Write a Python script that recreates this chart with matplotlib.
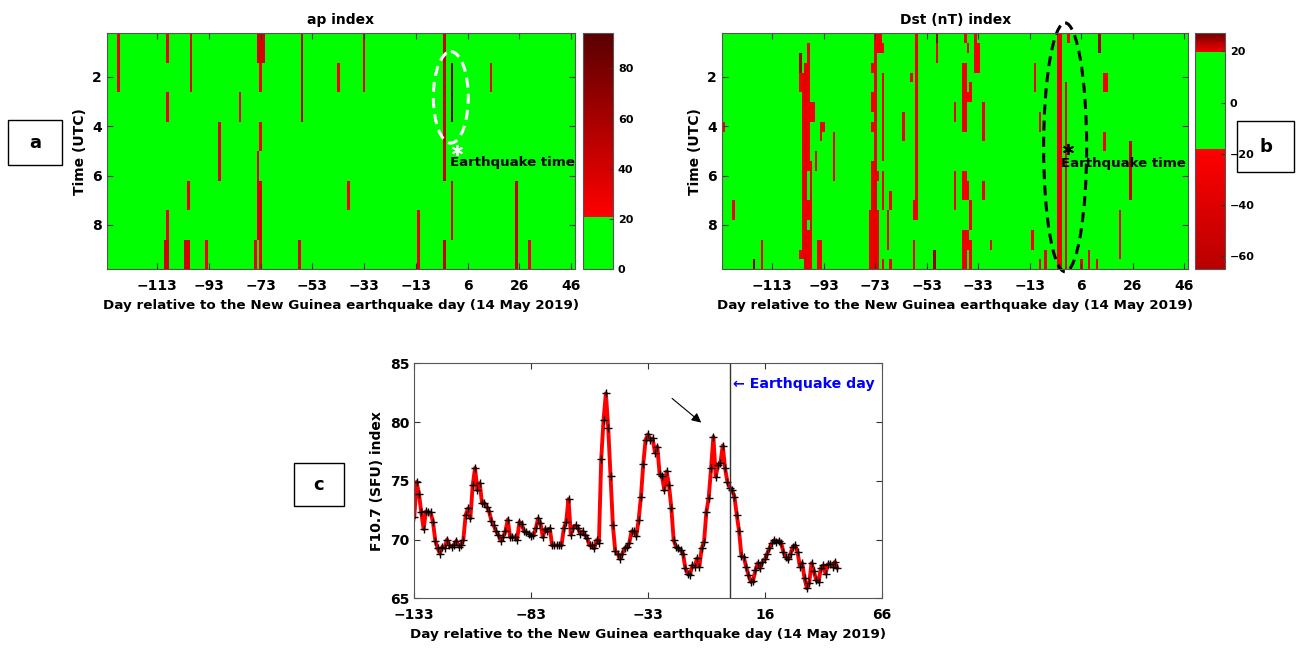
import numpy as np
import matplotlib
matplotlib.use("Agg")
import matplotlib.pyplot as plt
from matplotlib.colors import ListedColormap
from matplotlib.patches import Ellipse, Rectangle

plt.rcParams['font.family'] = ['DejaVu Sans']
plt.rcParams['font.weight'] = 'bold'
plt.rcParams['axes.labelweight'] = 'bold'
plt.rcParams['axes.titleweight'] = 'bold'

# ---------------- data ----------------
# heat map columns (day position) and tick labels
heat_days = np.arange(-132, 49)
heat_tick_pos = [-113, -93, -73, -53, -33, -13, 7, 27, 47]
heat_tick_labels = ['\u2212113', '\u221293', '\u221273', '\u221253', '\u221233', '\u221213', '6', '26', '46']

# ap index: 8 three-hour rows per day; (day, first row, last row, value)
ap_quiet = 5
ap_events = [
    (-128, 0, 1, 32),
    (-109, 0, 0, 27), (-109, 2, 2, 27), (-109, 6, 6, 27), (-110, 7, 7, 39), (-109, 7, 7, 39),
    (-100, 0, 1, 32), (-101, 5, 5, 32), (-102, 7, 7, 39), (-101, 7, 7, 39),
    (-94, 7, 7, 27), (-89, 3, 4, 32), (-81, 2, 2, 27),
    (-74, 0, 0, 39), (-73, 0, 0, 39), (-72, 0, 0, 39), (-73, 1, 1, 27), (-73, 3, 3, 27),
    (-74, 4, 4, 32), (-74, 5, 6, 39), (-73, 5, 6, 39), (-75, 7, 7, 27), (-73, 7, 7, 27),
    (-58, 7, 7, 32), (-57, 0, 2, 48), (-43, 1, 1, 27), (-33, 0, 1, 32), (-39, 5, 5, 27),
    (-12, 6, 7, 32), (-2, 0, 4, 48), (-2, 7, 7, 48), (1, 1, 1, 75), (1, 2, 2, 88),
    (1, 5, 6, 32), (16, 1, 1, 27), (26, 5, 7, 48), (31, 7, 7, 27),
]

# Dst index: 24 hourly rows per day; (day, first row, last row, value nT)
dst_quiet = -5
dst_events = [
    (-132, 9, 9, -25), (-128, 17, 18, -25), (-120, 23, 23, 25), (-117, 21, 23, -25),
    (-102, 2, 3, 24), (-102, 4, 5, -25), (-102, 22, 22, -25),
    (-101, 4, 22, -30), (-100, 3, 23, -35),
    (-99, 1, 13, -30), (-99, 17, 18, -30), (-99, 20, 23, -30),
    (-98, 7, 8, -25), (-97, 7, 8, -25), (-98, 13, 23, -30),
    (-96, 12, 13, -25), (-95, 21, 23, -25), (-94, 21, 23, -25),
    (-94, 9, 10, -25), (-93, 9, 9, -25), (-89, 10, 14, -25),
    (-73, 0, 12, -25), (-72, 0, 1, -30), (-71, 0, 1, -30), (-70, 1, 1, -25),
    (-74, 3, 3, -25), (-74, 6, 7, -25), (-74, 9, 9, -25), (-70, 4, 12, -25),
    (-74, 13, 23, -30), (-73, 13, 23, -35), (-75, 18, 23, -30), (-72, 18, 23, -25),
    (-72, 14, 14, -25), (-70, 14, 17, -25), (-67, 16, 17, -25), (-68, 18, 21, -25),
    (-70, 23, 23, -25), (-67, 23, 23, -25),
    (-62, 8, 10, -25), (-59, 4, 4, -25), (-57, 0, 18, -30), (-58, 17, 18, -30), (-58, 21, 23, -25),
    (-49, 0, 0, 25), (-49, 1, 2, -25), (-50, 22, 23, 25),
    (-42, 7, 8, -25), (-42, 14, 17, -25),
    (-39, 3, 9, -30), (-38, 3, 9, -30), (-38, 0, 0, -25), (-37, 1, 1, -25),
    (-37, 6, 6, -25), (-36, 5, 6, -25), (-34, 0, 3, -25), (-33, 1, 3, -25), (-31, 7, 10, -25),
    (-39, 14, 16, -25), (-38, 14, 16, -25), (-37, 15, 16, -25), (-36, 17, 19, -25), (-31, 15, 16, -25),
    (-39, 20, 23, -30), (-38, 20, 23, -30), (-37, 20, 21, -25), (-36, 21, 23, -25), (-28, 21, 21, -25),
    (-11, 3, 5, -25), (-9, 8, 9, -25), (-12, 20, 21, -25), (-9, 23, 23, -25), (-7, 22, 23, -25),
    (-2, 0, 23, -30), (-1, 0, 23, -30), (1, 5, 23, -25), (2, 0, 0, -25),
    (7, 23, 23, -25), (10, 22, 23, -25), (13, 23, 23, -25), (14, 0, 1, 24),
    (16, 4, 5, -25), (17, 4, 5, -25), (16, 10, 11, -25), (22, 18, 22, -25), (26, 11, 16, -55),
]

# F10.7 daily values
f_days = np.arange(-133, 49)
f107 = [
    71.9, 74.9, 73.9, 72.3, 70.9, 72.4, 72.3, 72.3, 71.5, 69.9,
    69.25, 68.8, 69.4, 69.3, 70.0, 69.5, 69.4, 69.5, 69.9, 69.4,
    69.5, 70.0, 72.1, 72.65, 71.8, 74.6, 76.1, 74.2, 74.8, 73.1,
    73.1, 72.8, 72.4, 71.6, 71.2, 70.7, 70.4, 69.9, 70.2, 70.7,
    71.7, 70.2, 70.2, 70.2, 70.0, 71.5, 71.3, 70.7, 70.6, 70.5,
    70.3, 70.4, 70.95, 71.8, 71.4, 70.2, 70.9, 70.7, 70.95, 69.5,
    69.5, 69.5, 69.5, 69.5, 70.95, 71.5, 73.45, 70.4, 71.0, 71.2,
    71.0, 70.5, 70.7, 70.4, 70.1, 69.5, 69.5, 69.25, 69.95, 69.7,
    76.85, 80.2, 82.45, 79.5, 75.4, 71.2, 69.0, 68.8, 68.35, 68.8,
    69.25, 69.4, 69.7, 70.7, 70.7, 70.3, 71.65, 73.65, 76.45, 78.5,
    78.95, 78.5, 78.6, 77.4, 77.9, 75.55, 75.4, 74.2, 75.8, 74.6,
    72.7, 69.95, 69.4, 69.25, 69.1, 68.8, 67.55, 67.1, 67.0, 67.8,
    67.7, 68.4, 67.7, 69.25, 69.8, 72.35, 73.55, 76.05, 78.75, 75.35,
    76.35, 76.5, 78.0, 76.05, 74.9, 74.4, 74.2, 73.65, 72.1, 70.7,
    68.6, 68.5, 67.7, 67.0, 66.4, 66.5, 67.4, 68.0, 67.55, 68.1,
    68.3, 68.8, 69.25, 69.7, 69.95, 69.8, 69.9, 69.7, 68.9, 68.5,
    68.3, 68.8, 69.4, 69.5, 68.95, 67.7, 68.0, 66.7, 65.85, 66.3,
    68.0, 67.3, 66.55, 66.4, 67.55, 67.8, 67.1, 67.9, 67.9, 67.7,
    68.1, 67.6,
]
f_tick_pos = [-133, -83, -33, 17, 67]
f_tick_labels = ['\u2212133', '\u221283', '\u221233', '16', '66']

xlabel = 'Day relative to the New Guinea earthquake day (14 May 2019)'

# ---------------- colour maps ----------------
ap_lim = (0, 94)
v = np.linspace(*ap_lim, 256)
c = np.zeros((256, 4))
c[:, 3] = 1
t = np.clip((v - 21) / (ap_lim[1] - 21), 0, 1)
c[:, 0] = 1 - 0.65 * t
c[v < 21] = (0, 1, 0, 1)
ap_cmap = ListedColormap(c)

dst_lim = (-65, 27)
v = np.linspace(*dst_lim, 256)
c = np.zeros((256, 4))
c[:, 3] = 1
lo = v < -18
hi = v > 20
c[:, 1] = 1
c[lo | hi, 1] = 0
c[lo, 0] = 1 - 0.28 * (-18 - v[lo]) / 47
c[hi, 0] = 0.95 - 0.5 * (v[hi] - 20) / 7
c[~(lo | hi), 0] = 0
dst_cmap = ListedColormap(c)


def make_grid(events, nrows, quiet):
    g = np.full((nrows, len(heat_days)), float(quiet))
    for d, r0, r1, val in events:
        g[r0:r1 + 1, d - heat_days[0]] = val
    return g


def style_axes(ax):
    ax.tick_params(direction='in', top=True, right=True, length=4, width=0.8,
                   labelsize=10, color='#333333')
    ax.tick_params(axis='x', pad=7)
    for s in ax.spines.values():
        s.set_color('#555555')
        s.set_linewidth(0.8)


fig = plt.figure(figsize=(13.11, 6.55), dpi=100)
ax_a = fig.add_axes([0.0814, 0.5889, 0.3572, 0.3603])
cax_a = fig.add_axes([0.4447, 0.5889, 0.0229, 0.3603])
ax_b = fig.add_axes([0.5507, 0.5889, 0.3557, 0.3603])
cax_b = fig.add_axes([0.9115, 0.5889, 0.0229, 0.3603])
ax_c = fig.add_axes([0.3160, 0.0866, 0.3565, 0.3588])

xedges = np.append(heat_days - 0.5, heat_days[-1] + 0.5)
ytop, ybot = 0.25, 9.79

panels = [
    (ax_a, cax_a, ap_events, 8, ap_quiet, ap_cmap, ap_lim, 'ap index', [0, 20, 40, 60, 80]),
    (ax_b, cax_b, dst_events, 24, dst_quiet, dst_cmap, dst_lim, 'Dst (nT) index', [-60, -40, -20, 0, 20]),
]
for ax, cax, ev, nrows, quiet, cmap, lim, title, cticks in panels:
    grid = make_grid(ev, nrows, quiet)
    yedges = np.linspace(ytop, ybot, nrows + 1)
    mesh = ax.pcolormesh(xedges, yedges, grid, cmap=cmap, vmin=lim[0], vmax=lim[1], shading='flat')
    ax.set_xlim(xedges[0], xedges[-1])
    ax.set_ylim(ybot, ytop)
    ax.set_xticks(heat_tick_pos)
    ax.set_xticklabels(heat_tick_labels)
    ax.set_yticks([2, 4, 6, 8])
    ax.set_xlabel(xlabel, fontsize=9.7)
    ax.set_ylabel('Time (UTC)', fontsize=10)
    ax.set_title(title, fontsize=10, pad=7)
    style_axes(ax)
    cb = fig.colorbar(mesh, cax=cax, ticks=cticks)
    cb.ax.tick_params(labelsize=8, direction='in', length=3, color='#333333')
    cb.ax.set_yticklabels([str(x).replace('-', '\u2212') for x in cticks])
    cb.outline.set_edgecolor('#555555')

# annotations on a
ax_a.add_patch(Ellipse((0.5, 2.84), 13.5, 3.7, fill=False, ec='white', lw=2.2,
                       ls=(0, (3.3, 2))))
ax_a.plot(2.7, 4.97, marker=(6, 2, 0), color='white', ms=8, mew=1.3)
ax_a.text(0.0, 5.48, 'Earthquake time', fontsize=9.6, va='center', color='black')

# annotations on b
ax_b.add_patch(Ellipse((0.7, 4.86), 16.7, 10.06, fill=False, ec='black', lw=2.2,
                       ls=(0, (3.3, 2)), clip_on=False))
ax_b.plot(1.9, 4.94, marker=(6, 2, 0), color='black', ms=8, mew=1.3)
ax_b.text(-1.0, 5.53, 'Earthquake time', fontsize=9.6, va='center', color='black')

# panel c
ax_c.plot(f_days, f107, color='red', lw=2.8)
ax_c.plot(f_days, f107, ls='none', marker='+', color='black', ms=6, mew=1)
ax_c.axvline(2, color='#333333', lw=1)
ax_c.text(3.4, 83.24, '\u2190 Earthquake day', color='blue', fontsize=10.2, va='center')
ax_c.annotate('', xy=(-9.3, 79.8), xytext=(-23.6, 82.16),
              arrowprops=dict(arrowstyle='-|>', color='black', lw=0.8, mutation_scale=14))
ax_c.set_xlim(-133, 67)
ax_c.set_ylim(65, 85)
ax_c.set_xticks(f_tick_pos)
ax_c.set_xticklabels(f_tick_labels)
ax_c.set_yticks([65, 70, 75, 80, 85])
ax_c.set_xlabel(xlabel, fontsize=9.7)
ax_c.set_ylabel('F10.7 (SFU) index', fontsize=10)
style_axes(ax_c)

# panel letters
W, H = 1311, 655
for letter, (x0, y0, x1, y1) in [('a', (8, 120, 62, 165)), ('b', (1237, 121, 1294, 172)),
                                 ('c', (294, 463, 344, 506))]:
    fig.add_artist(Rectangle((x0 / W, 1 - y1 / H), (x1 - x0) / W, (y1 - y0) / H,
                             transform=fig.transFigure, fill=False, ec='black', lw=1))
    fig.text((x0 + x1) / 2 / W, 1 - (y0 + y1) / 2 / H, letter, fontsize=13,
             ha='center', va='center')

fig.savefig('out.png', dpi=100)
